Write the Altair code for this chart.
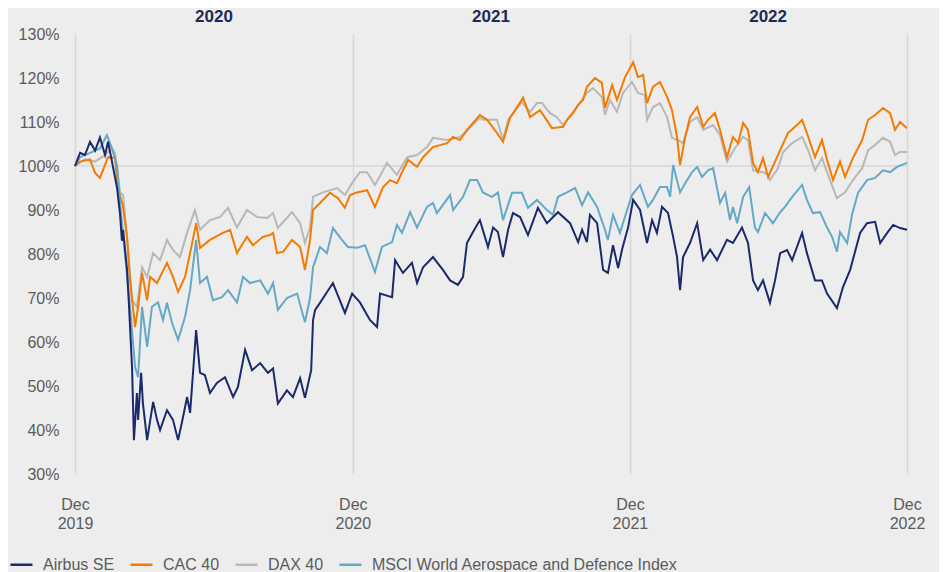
import altair as alt
import pandas as pd
import numpy as np

series_names = ["Airbus SE", "CAC 40", "DAX 40", "MSCI World Aerospace and Defence Index"]
series_colors = ["#1b2a6b", "#f47b00", "#b8b8b8", "#64a9c6"]

# month offsets from end of Dec 2019, and index level in %
airbus_m = [0, 0.22, 0.43, 0.65, 0.87, 1.08, 1.30, 1.43, 1.60, 1.82, 1.95, 2.03, 2.08, 2.25, 2.33, 2.47, 2.55,
            2.68, 2.73, 2.86, 2.94, 3.12, 3.38, 3.55, 3.68, 3.98, 4.24, 4.46, 4.63, 4.85, 4.98, 5.24, 5.41,
            5.62, 5.84, 6.14, 6.49, 6.84, 7.05, 7.36, 7.66, 8.01, 8.35, 8.57, 8.78, 9.17, 9.43, 9.74, 9.95,
            10.22, 10.30, 10.39, 10.60, 11.16, 11.68, 11.99, 12.33, 12.76, 13.07, 13.20, 13.72, 13.85, 14.19,
            14.58, 14.80, 15.06, 15.49, 15.92, 16.23, 16.57, 16.79, 16.96, 17.22, 17.52, 17.87, 18.09, 18.30,
            18.52, 18.74, 18.95, 19.26, 19.60, 20.03, 20.42, 20.90, 21.42, 21.77, 21.94, 22.15, 22.28, 22.59,
            22.85, 23.06, 23.28, 23.50, 23.67, 23.93, 24.15, 24.45, 24.75, 24.97, 25.18, 25.40, 25.66, 25.88,
            26.05, 26.18, 26.31, 26.61, 26.92, 27.18, 27.48, 27.78, 28.21, 28.47, 28.86, 29.12, 29.34, 29.55,
            29.77, 30.07, 30.29, 30.51, 30.81, 31.03, 31.46, 31.67, 32.02, 32.32, 32.54, 32.97, 33.23, 33.54,
            33.97, 34.27, 34.62, 34.84, 35.14, 35.40, 35.70, 36.00]
airbus_v = [100, 103, 102.5, 105.5, 103.5, 106.5, 102.5, 105.5, 101, 95, 89, 83, 85.5, 76.5, 69, 54, 37.7,
            48.4, 42.3, 53, 46, 37.7, 46.4, 42.3, 40, 44.5, 42.3, 37.7, 41.8, 47.5, 43.9, 62.7, 53,
            52.5, 48.4, 50.7, 52, 47.5, 49.8, 58.2, 53.6, 55.2, 53, 54, 46, 49, 47.5, 51.8, 47.3,
            53.6, 65, 67.3, 68.9, 73.4, 66.6, 71, 69, 65, 63.4, 71, 70.2, 78.6, 75.7,
            78, 73.4, 77, 79.3, 76.4, 74, 73, 74.8, 82.5, 85, 87.7, 81.6, 86, 85,
            79.3, 85.5, 89.3, 88.4, 84.3, 90.5, 87, 89.5, 87, 82.7, 85.5, 82.7, 88.9, 87,
            76.4, 75.7, 82, 76.8, 81, 86, 92.3, 90, 82.5, 87.7, 84.8, 90.7, 89.3, 83.9,
            79.3, 71.8, 79.3, 82.5, 87, 78.6, 81, 78.6, 83.2, 82.5, 86, 82.5, 74, 71.8,
            74, 68.9, 74, 80.2, 80.9, 78.6, 84.8, 80.2, 74, 74, 71, 67.7, 72.5, 76.4,
            84.8, 87, 87.3, 82.5, 84.8, 86.6, 85.9, 85.5]

cac_m = [0, 0.22, 0.65, 0.87, 1.08, 1.43, 1.73, 1.86, 2.08, 2.25, 2.38, 2.60, 2.73, 2.90, 3.12, 3.25, 3.55,
         3.98, 4.24, 4.46, 4.76, 4.98, 5.24, 5.41, 5.84, 6.40, 6.71, 7.01, 7.44, 7.70, 8.13, 8.44, 8.57,
         8.74, 9.00, 9.39, 9.74, 9.95, 10.17, 10.30, 10.60, 11.03, 11.38, 11.68, 11.90, 12.20, 12.64, 12.98,
         13.33, 13.63, 13.93, 14.19, 14.41, 14.80, 15.06, 15.49, 16.10, 16.36, 16.66, 16.96, 17.52, 17.83,
         18.26, 18.52, 18.82, 19.39, 19.69, 20.12, 20.64, 21.12, 21.29, 21.55, 21.77, 21.98, 22.15, 22.50,
         22.80, 22.93, 23.24, 23.45, 23.80, 24.15, 24.36, 24.58, 24.75, 25.01, 25.31, 25.62, 25.83, 26.05,
         26.18, 26.40, 26.61, 26.92, 27.18, 27.39, 27.69, 27.91, 28.21, 28.47, 28.69, 28.91, 29.12, 29.34,
         29.55, 29.77, 29.99, 30.29, 30.51, 30.85, 31.24, 31.46, 31.67, 32.02, 32.32, 32.54, 32.80, 33.10,
         33.32, 33.66, 34.06, 34.32, 34.62, 34.96, 35.27, 35.48, 35.70, 36.00]
cac_v = [100, 101, 101.5, 98.4, 97.3, 102, 101.8, 95, 90.7, 83.9, 74, 63.4, 68, 75.7, 69.5, 74.8, 73.4,
         78, 74.8, 71.4, 74.8, 80.2, 87, 81.4, 83.2, 84.8, 85.5, 80.2, 83.9, 82, 83.9, 84.3, 84.8,
         80.2, 80.5, 83.2, 81.6, 76.4, 83.2, 90, 91.6, 93.9, 92.7, 90.5, 93.4, 94, 94.5, 90.7,
         95.2, 96.8, 96.1, 99, 101.4, 99.8, 102, 104.3, 105.2, 106.6, 105.9, 108.2, 111.6, 110.5,
         107.5, 105.5, 110.9, 115.5, 111.1, 112.7, 108.6, 108.9, 110.5, 112, 113.9, 115, 118, 120,
         118.9, 113.2, 118.4, 115, 120.2, 123.6, 120.2, 120.7, 114.3, 118, 119.1, 115.7, 112.7, 106.6,
         100.2, 106.6, 111.1, 113.4, 108.9, 110.5, 112, 108.2, 102, 106.6, 105.2, 109.8, 108.2, 100.7,
         98.6, 101.8, 97.5, 101, 103.6, 107.5, 109.3, 110.5, 107.5, 102, 105.9, 101.4, 96.8, 101,
         97.5, 101.8, 105.9, 110.5, 111.6, 113.2, 112, 108.2, 110, 108.6]

dax_m = [0, 0.43, 0.87, 1.30, 1.60, 1.73, 1.95, 2.08, 2.29, 2.47, 2.68, 2.90, 3.12, 3.38, 3.68, 3.98, 4.24,
         4.54, 4.85, 5.19, 5.41, 5.84, 6.27, 6.62, 7.01, 7.44, 7.88, 8.31, 8.57, 8.78, 9.39, 9.74, 9.95,
         10.17, 10.30, 10.73, 11.34, 11.68, 11.99, 12.33, 12.64, 12.98, 13.50, 13.93, 14.37, 14.80, 15.23,
         15.49, 16.10, 16.66, 16.96, 17.52, 17.65, 18.26, 18.52, 18.74, 19.34, 19.69, 19.99, 20.21, 20.55,
         20.85, 21.12, 21.51, 21.85, 22.15, 22.41, 22.80, 22.93, 23.15, 23.45, 23.71, 24.10, 24.36, 24.66,
         24.75, 25.01, 25.31, 25.62, 25.83, 26.09, 26.31, 26.61, 26.92, 27.18, 27.61, 27.91, 28.21, 28.56,
         28.91, 29.12, 29.34, 29.77, 29.99, 30.07, 30.42, 30.64, 31.03, 31.46, 31.72, 32.02, 32.32, 32.67,
         32.97, 33.32, 33.66, 34.06, 34.32, 34.62, 34.96, 35.27, 35.48, 35.70, 36.00]
dax_v = [100, 101.5, 101, 102.5, 104, 103, 94, 93.4, 81.6, 69.5, 68, 77, 74.8, 80.2, 78.6, 83.2, 80.9,
         79.3, 84.8, 90, 85.5, 87.7, 88.4, 90.5, 86, 90, 88.4, 88.2, 89.3, 85.9, 89.5, 87, 82.5,
         86, 93, 94, 95, 93.4, 96.1, 98.6, 98.6, 95.7, 100.7, 98, 102, 102.5, 104.3,
         106.4, 105.9, 106.6, 108, 111, 110.5, 110.5, 105.9, 110.5, 114.5, 112.3, 114.3, 114.3, 112,
         111.1, 109.3, 112, 114.3, 116.6, 117.7, 115.7, 111.6, 115, 112.3, 116.6, 119.1, 116.6, 116.1,
         110.5, 113.4, 114.3, 111.1, 106.4, 105.9, 105.2, 110, 111.1, 108.2, 109.3, 107, 101, 104.1,
         106.6, 105.9, 99, 98.6, 98, 96.8, 99.5, 103.2, 105.2, 106.6, 103.6, 99, 101.8, 96.8,
         92.7, 94, 96.8, 99.5, 103.6, 104.8, 106.4, 105.5, 102.5, 103.2, 103.2]

msci_m = [0, 0.22, 0.65, 1.08, 1.38, 1.60, 1.82, 1.95, 2.16, 2.38, 2.60, 2.73, 2.90, 3.12, 3.33, 3.59, 3.81,
          3.98, 4.20, 4.46, 4.76, 4.98, 5.24, 5.41, 5.71, 5.97, 6.36, 6.62, 7.01, 7.27, 7.57, 8.01, 8.35,
          8.57, 8.78, 9.17, 9.61, 9.95, 10.17, 10.30, 10.60, 10.90, 11.16, 11.55, 11.81, 12.20, 12.55, 12.98,
          13.28, 13.72, 13.93, 14.15, 14.50, 14.80, 15.23, 15.49, 15.66, 16.23, 16.36, 16.79, 17.09, 17.40,
          17.65, 18.04, 18.30, 18.52, 18.91, 19.34, 19.60, 19.99, 20.42, 20.68, 20.90, 21.29, 21.64, 21.94,
          22.20, 22.59, 22.93, 23.06, 23.28, 23.58, 23.89, 24.10, 24.45, 24.79, 25.01, 25.31, 25.62, 25.75,
          25.88, 26.18, 26.40, 26.70, 26.92, 27.13, 27.39, 27.61, 27.91, 28.13, 28.34, 28.47, 28.65, 28.91,
          29.17, 29.42, 29.55, 29.86, 30.20, 30.51, 30.72, 31.03, 31.46, 31.67, 31.93, 32.24, 32.54, 32.76,
          32.97, 33.10, 33.41, 33.62, 33.88, 34.27, 34.62, 34.96, 35.27, 35.57, 36.00]
msci_v = [100, 102, 103, 104, 107, 104, 100, 91.6, 80.2, 68, 54.3, 52, 68, 58.9, 68, 69, 65,
          68.9, 64.3, 60.5, 65.7, 71.8, 83.2, 73.4, 74.8, 69.5, 70.2, 71.8, 69, 74.8, 73.4, 74, 71,
          73.4, 67.3, 70, 71, 64.5, 70, 77, 81.6, 80.2, 85.9, 83.2, 81.6, 81.4, 82, 75.9,
          81.6, 82.7, 86.6, 84.8, 89.5, 86, 90.7, 91.6, 89.3, 93.4, 90, 93, 96.8, 96.8,
          94, 93, 94, 87.7, 93.9, 93.9, 90.5, 92.3, 90, 88.9, 93, 94, 95, 91.1,
          94, 90.7, 85.5, 83.2, 88.9, 84.8, 90, 93.4, 95.7, 90.7, 92.3, 95.2, 95.2, 93,
          100.2, 94, 96.1, 98.6, 99.8, 97.5, 99, 99.5, 91.6, 93.9, 87.7, 90.7, 87, 93,
          95.2, 86, 85, 89.3, 87, 89.5, 90.7, 93, 95.7, 92.3, 89.3, 89.5, 86, 83.9,
          80.5, 85, 82.5, 88.9, 93.9, 96.8, 97.3, 99, 98.6, 99.8, 100.7]

year_labels = ["2020", "2021", "2022"]
year_mid = ["2020-07-01", "2021-07-01", "2022-07-01"]
tick_dates = ["2019-12-31", "2020-12-31", "2021-12-31", "2022-12-31"]
y_ticks = [30, 40, 50, 60, 70, 80, 90, 100, 110, 120, 130]

start = pd.Timestamp("2019-12-31")
days_per_month = 1096 / 36.0


def to_dates(months):
    d = start + pd.to_timedelta(np.array(months) * days_per_month, unit="D")
    return d.round("h")


frames = []
for name, m, v in [("DAX 40", dax_m, dax_v), ("CAC 40", cac_m, cac_v),
                   ("MSCI World Aerospace and Defence Index", msci_m, msci_v),
                   ("Airbus SE", airbus_m, airbus_v)]:
    frames.append(pd.DataFrame({"date": to_dates(m), "value": v, "series": name}))
df = pd.concat(frames, ignore_index=True)

font = "Liberation Sans"
label_color = "#5b5b5b"

x_scale = alt.Scale(domain=[tick_dates[0], tick_dates[-1]])
y_scale = alt.Scale(domain=[30, 130], nice=False, zero=False)

lines = alt.Chart(df).mark_line(strokeWidth=2, clip=False).encode(
    x=alt.X("date:T", scale=x_scale, title=None,
            axis=alt.Axis(values=tick_dates, labelExpr="['Dec', timeFormat(datum.value, '%Y')]",
                          grid=True, gridColor="#d7d7d7", gridWidth=1.5, domain=False, ticks=False,
                          labelPadding=22, labelFontSize=16, labelColor=label_color, labelFont=font,
                          labelLineHeight=19, labelAlign="center")),
    y=alt.Y("value:Q", scale=y_scale, title=None,
            axis=alt.Axis(values=y_ticks, labelExpr="datum.value + '%'", grid=False, domain=False,
                          ticks=False, labelPadding=16, labelFontSize=16, labelColor=label_color,
                          labelFont=font)),
    color=alt.Color("series:N", scale=alt.Scale(domain=series_names, range=series_colors),
                    legend=alt.Legend(title=None, orient="none", legendX=-66, legendY=518,
                                      direction="horizontal", symbolType="stroke", symbolSize=484,
                                      symbolStrokeWidth=2.5, labelFontSize=16, labelFont=font,
                                      labelColor=label_color, columnPadding=10, labelOffset=9,
                                      labelLimit=500)),
    detail="series:N",
)

hundred = alt.Chart(pd.DataFrame({"value": [100]})).mark_rule(color="#d7d7d7", strokeWidth=1.5).encode(
    y=alt.Y("value:Q", scale=y_scale)
)

years = alt.Chart(pd.DataFrame({"date": year_mid, "label": year_labels})).mark_text(
    fontSize=17, fontWeight="bold", color="#1f2a55", font=font, baseline="middle"
).encode(
    x=alt.X("date:T", scale=x_scale),
    y=alt.value(-17),
    text="label:N",
)

chart = alt.layer(hundred, lines, years).properties(
    width=832, height=440,
    padding={"left": 67, "top": 26, "right": 32, "bottom": 110},
    autosize=alt.AutoSizeParams(type="none"),
    background="#ededed",
).configure_view(stroke=None)

chart.save("out.html", embed_options={"renderer": "svg", "actions": False})
